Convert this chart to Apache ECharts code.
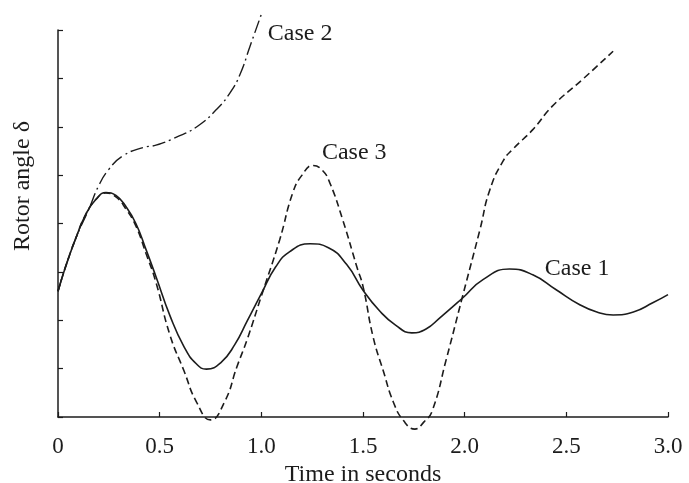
<!DOCTYPE html>
<html>
<head>
<meta charset="utf-8">
<script src="https://cdn.jsdelivr.net/npm/echarts@6/dist/echarts.min.js"></script>
<style>
  html, body { margin: 0; padding: 0; background: #fff; }
  #chart { width: 689px; height: 483px; }
</style>
</head>
<body>
<div id="chart"></div>
<script>
// data (time in s, rotor angle in axis units 0..8)
const case1T = [0, 0.04, 0.088, 0.138, 0.187, 0.236, 0.285, 0.334, 0.383, 0.433, 0.482, 0.55, 0.62, 0.68, 0.73, 0.8, 0.87, 0.93, 1.0, 1.07, 1.14, 1.24, 1.33, 1.42, 1.5, 1.58, 1.66, 1.74, 1.81, 1.878, 1.99, 2.09, 2.22, 2.335, 2.45, 2.566, 2.65, 2.73, 2.83, 2.925, 3.0]
const case1V = [2.6, 3.14, 3.7, 4.2, 4.5, 4.64, 4.58, 4.35, 4.0, 3.46, 2.9, 2.1, 1.45, 1.1, 0.99, 1.12, 1.5, 1.98, 2.55, 3.1, 3.42, 3.58, 3.5, 3.15, 2.62, 2.2, 1.9, 1.74, 1.82, 2.05, 2.46, 2.84, 3.06, 2.94, 2.63, 2.32, 2.17, 2.11, 2.17, 2.36, 2.53]

const case2T = [0, 0.04, 0.088, 0.152, 0.2, 0.25, 0.32, 0.418, 0.482, 0.58, 0.683, 0.78, 0.846, 0.895, 0.944, 1.003]
const case2V = [2.6, 3.14, 3.7, 4.3, 4.78, 5.12, 5.4, 5.57, 5.62, 5.78, 6.0, 6.36, 6.7, 7.08, 7.66, 8.36]

const case3T = [0, 0.04, 0.088, 0.138, 0.187, 0.236, 0.285, 0.334, 0.383, 0.433, 0.482, 0.55, 0.62, 0.68, 0.75, 0.82, 0.88, 0.93, 1.0, 1.09, 1.155, 1.2, 1.254, 1.3, 1.337, 1.4, 1.47, 1.5, 1.55, 1.6, 1.65, 1.7, 1.755, 1.8, 1.84, 1.91, 1.99, 2.075, 2.124, 2.19, 2.24, 2.335, 2.43, 2.58, 2.73]
const case3V = [2.6, 3.14, 3.7, 4.2, 4.5, 4.63, 4.55, 4.3, 3.95, 3.38, 2.78, 1.7, 0.95, 0.32, -0.06, 0.32, 1.04, 1.6, 2.5, 3.66, 4.64, 5.0, 5.2, 5.1, 4.84, 4.08, 3.1, 2.7, 1.65, 0.95, 0.3, -0.08, -0.25, -0.1, 0.12, 1.2, 2.5, 3.87, 4.7, 5.3, 5.55, 5.94, 6.42, 6.98, 7.56]

// curve labels: text, time, angle
const labelText = ['Case 1', 'Case 2', 'Case 3']
const labelT = [2.394, 1.032, 1.298]
const labelV = [3.06, 7.93, 5.47]

const xTicks = [0, 0.5, 1.0, 1.5, 2.0, 2.5, 3.0]

const ink = '#1c1c1c'
const serif = '"Liberation Serif", "DejaVu Serif", serif'

const pairs = (ts, vs) => ts.map((t, i) => [t, vs[i]])

const chartInstance = echarts.init(document.getElementById('chart'))

const option = {
  animation: false,
  backgroundColor: '#fff',
  grid: {
    left: 58,
    right: 21,
    top: 30,
    bottom: 66,
    containLabel: false,
    outerBoundsMode: 'none'
  },
  xAxis: {
    type: 'value',
    min: xTicks[0],
    max: xTicks[xTicks.length - 1],
    interval: 0.5,
    name: 'Time in seconds',
    nameLocation: 'middle',
    nameGap: 41,
    nameTextStyle: { fontFamily: serif, fontSize: 24, color: ink },
    axisLine: { lineStyle: { color: ink, width: 1.5 } },
    axisTick: { inside: true, length: 5, lineStyle: { color: ink, width: 1.2 } },
    axisLabel: {
      margin: 18,
      fontFamily: serif,
      fontSize: 23,
      color: ink,
      formatter: (v) => (v === 0 ? '0' : v.toFixed(1))
    },
    splitLine: { show: false }
  },
  yAxis: {
    type: 'value',
    min: 0,
    max: 8,
    interval: 1,
    axisLine: { show: true, lineStyle: { color: ink, width: 1.5 } },
    axisTick: { show: true, inside: true, length: 5, lineStyle: { color: ink, width: 1.2 } },
    axisLabel: { show: false },
    splitLine: { show: false }
  },
  series: [
    {
      name: 'Case 1',
      type: 'line',
      data: pairs(case1T, case1V),
      smooth: 0.5,
      showSymbol: false,
      clip: false,
      lineStyle: { color: ink, width: 1.6, type: 'solid' }
    },
    {
      name: 'Case 2',
      type: 'line',
      data: pairs(case2T, case2V),
      smooth: 0.5,
      showSymbol: false,
      clip: false,
      lineStyle: { color: ink, width: 1.4, type: [13, 4, 2, 4] }
    },
    {
      name: 'Case 3',
      type: 'line',
      data: pairs(case3T, case3V),
      smooth: 0.5,
      showSymbol: false,
      clip: false,
      lineStyle: { color: ink, width: 1.6, type: [7, 4] }
    }
  ]
}
chartInstance.setOption(option)

// texts placed through the axes
const graphics = labelText.map((txt, i) => {
  const p = chartInstance.convertToPixel({ gridIndex: 0 }, [labelT[i], labelV[i]])
  return {
    type: 'text',
    x: p[0],
    y: p[1],
    style: {
      text: txt,
      font: '24px ' + serif,
      fill: ink,
      textAlign: 'left',
      textVerticalAlign: 'middle'
    }
  }
})
graphics.push({
  type: 'text',
  x: 23,
  y: 186,
  rotation: Math.PI / 2,
  style: {
    text: 'Rotor angle δ',
    font: '24px ' + serif,
    fill: ink,
    textAlign: 'center',
    textVerticalAlign: 'middle'
  }
})
chartInstance.setOption({ graphic: graphics })
</script>
</body>
</html>
